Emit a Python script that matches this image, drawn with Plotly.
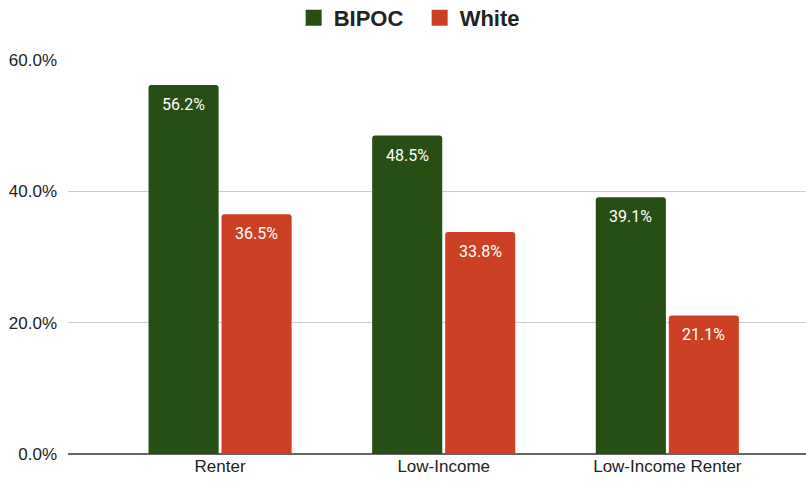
import plotly.graph_objects as go

categories = ["Renter", "Low-Income", "Low-Income Renter"]
bipoc = [56.2, 48.5, 39.1]
white = [36.5, 33.8, 21.1]
y_ticks = [0, 20, 40, 60]
y_tick_labels = ["0.0%", "20.0%", "40.0%", "60.0%"]

GREEN = "#274e13"
RED = "#cc4125"
FONT = "Liberation Sans, Arial, sans-serif"
LABEL_FONT = "Roboto, Liberation Sans, Arial, sans-serif"
BARGAP = 0.347

series = [("BIPOC", bipoc, GREEN), ("White", white, RED)]
xs = list(range(len(categories)))

fig = go.Figure()
slot = (1 - BARGAP) / len(series)
for k, (name, vals, color) in enumerate(series):
    fig.add_trace(go.Bar(
        name=name, x=xs, y=vals,
        marker=dict(color=color, line=dict(width=0)),
        showlegend=False, hoverinfo="y",
    ))
    # legend entry with a square swatch
    fig.add_trace(go.Scatter(
        name=name, x=[None], y=[None], mode="markers",
        marker=dict(symbol="square", size=16, color=color, line=dict(width=0)),
        showlegend=True,
    ))
    # value labels just inside the top of each bar
    offset = (k - (len(series) - 1) / 2) * slot
    for xi, v in zip(xs, vals):
        fig.add_annotation(
            x=xi + offset, y=v, xref="x", yref="y",
            text=f"{v:.1f}%", showarrow=False,
            yanchor="top", yshift=-8,
            font=dict(family=LABEL_FONT, size=16, color="white"),
        )

fig.update_layout(
    width=806, height=483,
    margin=dict(l=68, r=0, t=60, b=29),
    paper_bgcolor="white", plot_bgcolor="white",
    barmode="group", bargap=BARGAP, bargroupgap=0.04,
    barcornerradius=3,
    font=dict(family=FONT, color="#222222"),
    legend=dict(
        orientation="h", x=0.4765, xanchor="center", y=1 - 18 / 483, yref="container",
        yanchor="middle", font=dict(family=FONT, size=22, color="#222222", weight="bold"),
        traceorder="normal", entrywidth=81, entrywidthmode="pixels",
    ),
    showlegend=True,
)
fig.update_xaxes(
    tickmode="array", tickvals=xs, ticktext=categories,
    range=[-0.68, 2.62], showgrid=False, ticks="", showline=False,
    tickfont=dict(family=FONT, size=17, color="#222222"), fixedrange=True,
)
fig.update_yaxes(
    range=[0, 60], tickmode="array", tickvals=y_ticks, ticktext=y_tick_labels,
    showgrid=True, gridcolor="#cccccc", gridwidth=1,
    zeroline=True, zerolinecolor="#666666", zerolinewidth=2,
    ticks="", ticklabelstandoff=10,
    tickfont=dict(family=FONT, size=17, color="#222222"), fixedrange=True,
)

fig.write_html("out.html")
